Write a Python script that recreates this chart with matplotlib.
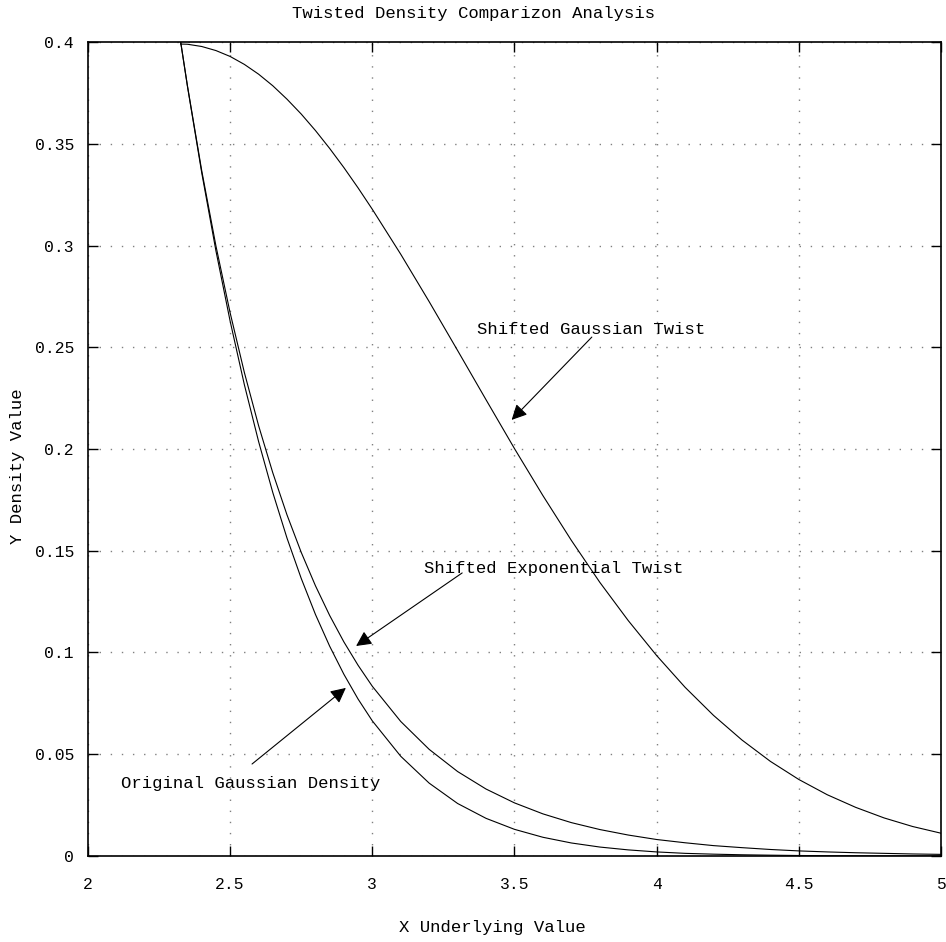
import matplotlib
matplotlib.use('Agg')
import matplotlib.pyplot as plt

plt.rcParams['font.family'] = ['Liberation Mono', 'DejaVu Sans Mono']

# values
x = [2.326, 2.35, 2.40, 2.45, 2.50, 2.55, 2.60, 2.65, 2.70, 2.75, 2.80, 2.85, 2.90, 2.95,
     3.0, 3.1, 3.2, 3.3, 3.4, 3.5, 3.6, 3.7, 3.8, 3.9, 4.0, 4.1, 4.2, 4.3, 4.4, 4.5,
     4.6, 4.7, 4.8, 4.9, 5.0]
orig_gauss = [0.4, 0.3781, 0.3358, 0.2974, 0.2628, 0.2316, 0.2037, 0.1786, 0.1562, 0.1364,
              0.1187, 0.1031, 0.0893, 0.0771, 0.0664, 0.0490, 0.0358, 0.0258, 0.0185, 0.0131,
              0.0092, 0.0064, 0.0044, 0.0030, 0.0020, 0.0013, 0.0009, 0.0006, 0.0004, 0.00024,
              0.00015, 0.0001, 0.00006, 0.00004, 0.00002]
exp_twist = [0.4, 0.3783, 0.3368, 0.2998, 0.2669, 0.2376, 0.2115, 0.1883, 0.1676, 0.1492,
             0.1328, 0.1182, 0.1052, 0.0937, 0.0834, 0.0661, 0.0524, 0.0415, 0.0329, 0.0261,
             0.0207, 0.0164, 0.0130, 0.0103, 0.0081, 0.0065, 0.0051, 0.0041, 0.0032, 0.0025,
             0.0020, 0.0016, 0.0013, 0.0010, 0.0008]
gauss_twist = [0.399, 0.3989, 0.3978, 0.3958, 0.3929, 0.3890, 0.3842, 0.3785, 0.3719, 0.3646,
               0.3565, 0.3477, 0.3383, 0.3283, 0.3178, 0.2957, 0.2724, 0.2484, 0.2242, 0.2002,
               0.1771, 0.1551, 0.1345, 0.1157, 0.0985, 0.0829, 0.0691, 0.0570, 0.0465, 0.0376,
               0.0301, 0.0239, 0.0187, 0.0145, 0.0112]

labels = ['Shifted Gaussian Twist', 'Shifted Exponential Twist', 'Original Gaussian Density']
label_pos = [(3.769, 0.2585), (3.639, 0.1415), (2.572, 0.0354)]
arrow_from = [(3.772, 0.2550), (3.316, 0.1391), (2.577, 0.0452)]
arrow_to = [(3.490, 0.2143), (2.943, 0.1032), (2.907, 0.0826)]

fig = plt.figure(figsize=(9.46, 9.42), dpi=100)
ax = fig.add_axes([0.093, 0.0913, 0.9017, 0.8641])

ax.plot(x, orig_gauss, color='black', lw=0.8)
ax.plot(x, exp_twist, color='black', lw=0.8)
ax.plot(x, gauss_twist, color='black', lw=0.8)

for lab, p, a, b in zip(labels, label_pos, arrow_from, arrow_to):
    ax.text(p[0], p[1], lab, ha='center', va='center', fontsize=12.4)
    ax.annotate('', xy=b, xytext=a,
                arrowprops=dict(arrowstyle='-|>', color='black', lw=0.8,
                                mutation_scale=23, shrinkA=0, shrinkB=0))

ax.set_xlim(2, 5)
ax.set_ylim(0, 0.4)
ax.set_xticks([2, 2.5, 3, 3.5, 4, 4.5, 5])
ax.set_xticklabels(['2', '2.5', '3', '3.5', '4', '4.5', '5'])
ax.set_yticks([0, 0.05, 0.1, 0.15, 0.2, 0.25, 0.3, 0.35, 0.4])
ax.set_yticklabels(['0', '0.05', '0.1', '0.15', '0.2', '0.25', '0.3', '0.35', '0.4'])
ax.tick_params(axis='both', direction='in', length=7, width=1, top=True, right=True,
               labelsize=11.8)
ax.tick_params(axis='x', pad=15)
ax.tick_params(axis='y', pad=10)
ax.grid(True, color='gray', linestyle=(0, (1, 7)), lw=1)
for s in ax.spines.values():
    s.set_linewidth(1.2)

fig.text(0.520, 0.015, 'X Underlying Value', ha='center', va='center', fontsize=12.4)
fig.text(0.018, 0.505, 'Y Density Value', ha='center', va='center', rotation=90,
         fontsize=12.4)
fig.text(0.5005, 0.986, 'Twisted Density Comparizon Analysis', ha='center', va='center',
         fontsize=12.4)

fig.savefig('out.png', dpi=100)
